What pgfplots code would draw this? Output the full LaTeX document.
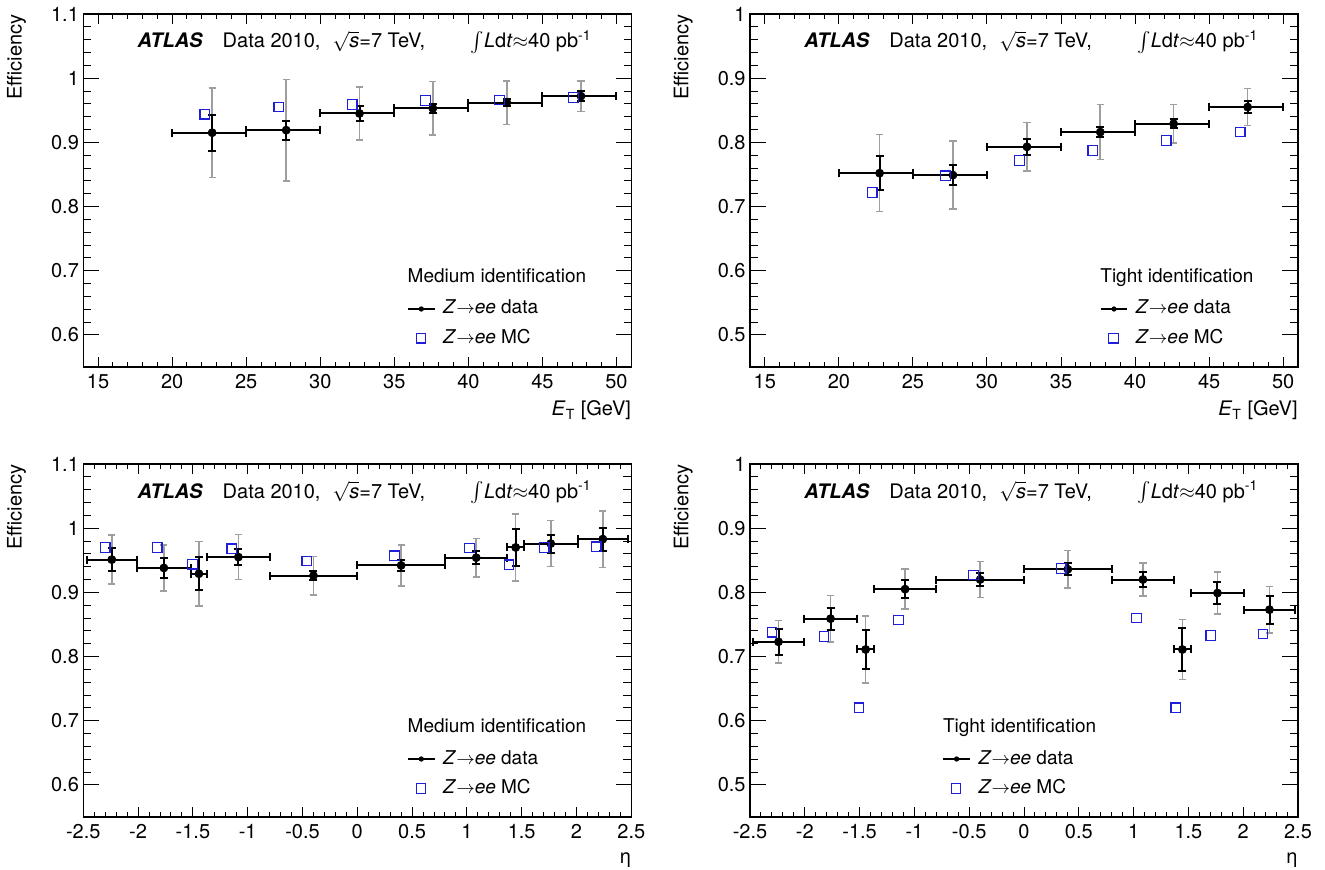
\documentclass[border=0pt]{standalone}
\usepackage{fontspec}
\setmainfont{TeX Gyre Heros}
\usepackage{pgfplots}
\usepackage{pgfplotstable}
\pgfplotsset{compat=1.18}
\definecolor{errgray}{gray}{0.62}
\definecolor{mcblue}{rgb}{0.12,0.12,0.85}
\newcommand{\tfont}{\fontsize{10}{12}\selectfont}
\newcommand{\lfont}{\fontsize{9.5}{11}\selectfont}

% x y xl xh stat total mcx mcy
\pgfplotstableread{
x y xl xh st tot mx my
22.7 0.915 2.7 2.3 0.028 0.070 22.2 0.944
27.7 0.919 2.7 2.3 0.015 0.079 27.2 0.955
32.65 0.945 2.65 2.35 0.011 0.041 32.15 0.959
37.6 0.953 2.6 2.4 0.007 0.042 37.1 0.965
42.6 0.962 2.6 2.4 0.006 0.034 42.1 0.966
47.6 0.972 2.6 2.4 0.0075 0.024 47.1 0.970
}\tlData
\pgfplotstableread{
x y xl xh st tot mx my
22.75 0.752 2.75 2.25 0.026 0.060 22.25 0.722
27.7 0.749 2.7 2.3 0.015 0.053 27.2 0.748
32.7 0.793 2.7 2.3 0.012 0.038 32.2 0.772
37.65 0.816 2.65 2.35 0.008 0.043 37.15 0.7875
42.6 0.829 2.6 2.4 0.007 0.030 42.1 0.8026
47.6 0.855 2.6 2.4 0.010 0.029 47.1 0.816
}\trData
\pgfplotstableread{
x y xl xh st tot mx my
-2.24 0.951 0.23 0.23 0.018 0.038 -2.30 0.970
-1.765 0.938 0.245 0.245 0.015 0.036 -1.825 0.970
-1.445 0.929 0.075 0.075 0.026 0.050 -1.505 0.944
-1.085 0.955 0.285 0.285 0.012 0.035 -1.145 0.968
-0.4 0.926 0.4 0.4 0.0075 0.030 -0.46 0.949
0.4 0.942 0.4 0.4 0.008 0.032 0.34 0.957
1.085 0.954 0.285 0.285 0.010 0.030 1.025 0.969
1.445 0.970 0.075 0.075 0.029 0.052 1.385 0.943
1.765 0.976 0.245 0.245 0.014 0.036 1.705 0.970
2.24 0.983 0.23 0.23 0.018 0.044 2.18 0.971
}\blData
\pgfplotstableread{
x y xl xh st tot mx my
-2.24 0.723 0.23 0.23 0.020 0.033 -2.30 0.738
-1.765 0.759 0.245 0.245 0.017 0.036 -1.825 0.731
-1.445 0.711 0.075 0.075 0.030 0.052 -1.505 0.620
-1.085 0.805 0.285 0.285 0.0135 0.031 -1.145 0.757
-0.4 0.820 0.4 0.4 0.010 0.028 -0.46 0.827
0.4 0.836 0.4 0.4 0.009 0.029 0.34 0.837
1.085 0.820 0.285 0.285 0.012 0.026 1.025 0.760
1.445 0.711 0.075 0.075 0.034 0.047 1.385 0.620
1.765 0.799 0.245 0.245 0.017 0.033 1.705 0.733
2.24 0.773 0.23 0.23 0.022 0.036 2.18 0.735
}\brData

\pgfplotsset{
  atlas/.style={
    scale only axis, width=274pt, height=176.5pt,
    anchor=north west,
    tick align=inside, tick pos=both,
    minor tick num=4,
    major tick length=7.8pt, minor tick length=3.9pt,
    every major x tick/.append style={/pgfplots/major tick length=5pt},
    every minor x tick/.append style={/pgfplots/minor tick length=2.5pt},
    axis line style={line width=0.6pt},
    every tick/.style={black, line width=0.5pt},
    tick label style={font=\tfont},
    yticklabel style={inner xsep=2pt},
    /pgf/number format/assume math mode=true,
    clip=false,
    legend cell align=left,
    legend style={draw=none, fill=none, inner sep=0pt, outer sep=0pt,
      at={(0,1)}, anchor=north west, font=\lfont,
      row sep=5.7pt, column sep=3.85pt,
      nodes={inner sep=0pt, text height=7pt, text depth=2pt}},
  },
}

\newcommand{\drawpanel}[1]{%
  \addplot[forget plot, only marks, mark=none,
    error bars/.cd, y dir=both, y explicit,
    error bar style={draw=errgray, line width=0.8pt},
    error mark options={rotate=90, draw=errgray, line width=0.8pt, mark size=1.8pt}]
    table[x=x, y=y, y error=tot] {#1};
  \addplot[forget plot, black, only marks, mark=*, mark size=1.1pt,
    error bars/.cd, x dir=both, x explicit, y dir=both, y explicit,
    error bar style={draw=black, line width=1pt},
    error mark options={rotate=90, draw=black, line width=1pt, mark size=2pt}]
    table[x=x, y=y, x error minus=xl, x error plus=xh, y error=st] {#1};
  \addplot[forget plot, only marks, mark=square, mark size=2.4pt,
    mark options={draw=mcblue, fill=none, line width=0.6pt}]
    table[x=mx, y=my] {#1};
}
\newcommand{\legentries}{%
  \addlegendimage{legend image code/.code={\draw[black, line width=0.8pt] (0pt,0pt) -- (13.3pt,0pt); \fill[black] (6.6pt,0pt) circle (1.1pt);}}
  \addlegendentry{\textit{Z}$\rightarrow$\textit{ee} data}
  \addlegendimage{legend image code/.code={\draw[mcblue, line width=0.6pt] (4.0pt,-2.35pt) rectangle (8.7pt,2.35pt); \path[draw=none] (0pt,0pt) -- (13.3pt,0pt);}}
  \addlegendentry{\textit{Z}$\rightarrow$\textit{ee} MC}
}
\newcommand{\header}{%
  \node[anchor=base west, inner sep=0pt, font=\tfont] at ([xshift=27pt,yshift=-17pt]rel axis cs:0,1) {\textbf{\textit{ATLAS}}};
  \node[anchor=base west, inner sep=0pt, font=\tfont] at ([xshift=69.5pt,yshift=-17pt]rel axis cs:0,1) {Data 2010,};
  \node[anchor=base west, inner sep=0pt, font=\tfont] at ([xshift=124.5pt,yshift=-17pt]rel axis cs:0,1) {$\sqrt{\mbox{\itshape s}}$=7 TeV,};
  \node[anchor=base west, inner sep=0pt, font=\tfont] at ([xshift=193.5pt,yshift=-17pt]rel axis cs:0,1) {$\int$\textit{L}d\textit{t}$\approx$40 pb\textsuperscript{-1}};
  \node[rotate=90, anchor=south east, inner sep=0pt, font=\tfont] at ([xshift=-28.5pt]rel axis cs:0,1) {Efficiency};
}
\newcommand{\legtitle}[2]{%
  \node[anchor=base west, inner sep=0pt, font=\lfont] at ([xshift=#1,yshift=-134.3pt]rel axis cs:0,1) {#2};
}

\begin{document}
\begin{tikzpicture}
\path[use as bounding box] (0,0) rectangle (662.5pt,-435pt);

% top left
\begin{axis}[atlas, at={(41.65pt,-7pt)},
  xmin=14, xmax=51, ymin=0.55, ymax=1.1,
  xtick={15,20,25,30,35,40,45,50}, ytick={0.6,0.7,0.8,0.9,1,1.1},
  legend style={xshift=162pt, yshift=-143pt}]
  \drawpanel{\tlData}
  \legentries
  \header
  \legtitle{162pt}{Medium identification}
  \node[anchor=base east, inner sep=0pt, font=\tfont] at ([yshift=-24.5pt]rel axis cs:1,0) {\textit{E}\textsubscript{T} [GeV]};
\end{axis}

% top right
\begin{axis}[atlas, at={(375pt,-7pt)},
  xmin=14, xmax=51, ymin=0.45, ymax=1,
  xtick={15,20,25,30,35,40,45,50}, ytick={0.5,0.6,0.7,0.8,0.9,1},
  legend style={xshift=175pt, yshift=-143pt}]
  \drawpanel{\trData}
  \legentries
  \header
  \legtitle{175pt}{Tight identification}
  \node[anchor=base east, inner sep=0pt, font=\tfont] at ([yshift=-24.5pt]rel axis cs:1,0) {\textit{E}\textsubscript{T} [GeV]};
\end{axis}

% bottom left
\begin{axis}[atlas, at={(41.65pt,-232pt)},
  xmin=-2.5, xmax=2.5, ymin=0.55, ymax=1.1,
  xtick={-2.5,-2,-1.5,-1,-0.5,0,0.5,1,1.5,2,2.5}, ytick={0.6,0.7,0.8,0.9,1,1.1},
  legend style={xshift=162pt, yshift=-143pt}]
  \drawpanel{\blData}
  \legentries
  \header
  \legtitle{162pt}{Medium identification}
  \node[anchor=base east, inner sep=0pt, font=\tfont] at ([yshift=-23pt]rel axis cs:1,0) {η};
\end{axis}

% bottom right
\begin{axis}[atlas, at={(375pt,-232pt)},
  xmin=-2.5, xmax=2.5, ymin=0.45, ymax=1,
  xtick={-2.5,-2,-1.5,-1,-0.5,0,0.5,1,1.5,2,2.5}, ytick={0.5,0.6,0.7,0.8,0.9,1},
  legend style={xshift=96.3pt, yshift=-143pt}]
  \drawpanel{\brData}
  \legentries
  \header
  \legtitle{96.3pt}{Tight identification}
  \node[anchor=base east, inner sep=0pt, font=\tfont] at ([yshift=-23pt]rel axis cs:1,0) {η};
\end{axis}
\end{tikzpicture}
\end{document}
